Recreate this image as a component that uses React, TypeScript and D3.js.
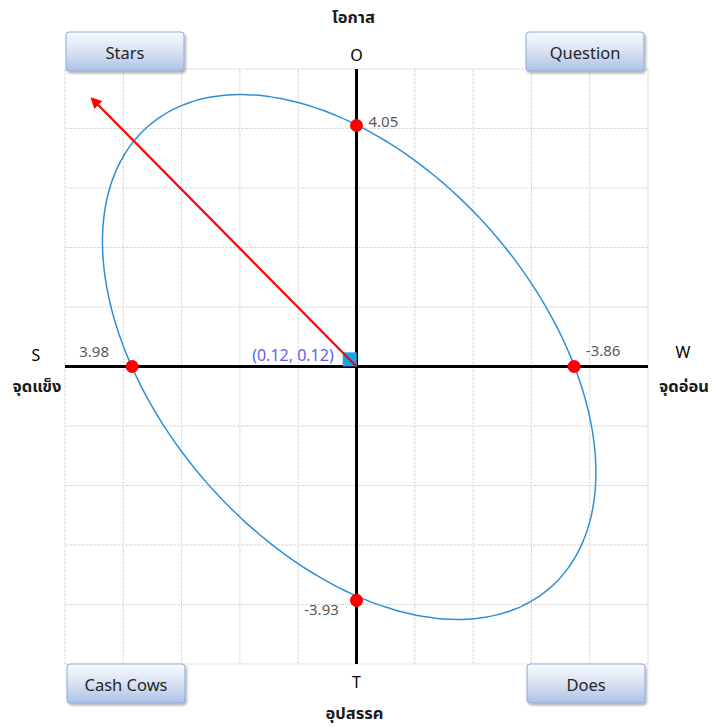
import React from "react";
import * as d3 from "d3";

// ---- data ----
const pointLabels = ["3.98", "-3.86", "4.05", "-3.93"];
const pointX = [3.98, -3.86, 0, 0];
const pointY = [0, 0, 4.05, -3.93];
const centerPoint = [0.12, 0.12];
const centerLabel = "(0.12, 0.12)";
const arrowStart = [0, 0];
const arrowEnd = [4.69, 4.5];
const ellipseCenter = [0.13, 0.16];
const quadrantNames = ["Stars", "Question", "Cash Cows", "Does"];
const axisLetters = ["S", "W", "O", "T"];
const axisThai = ["จุดแข็ง", "จุดอ่อน", "โอกาส", "อุปสรรค"];
const gridCount = 10;

const W = 712;
const H = 727;
const FONT = "'Noto Sans Thai', 'Noto Sans', 'DejaVu Sans', Tahoma, sans-serif";

export default function App() {
  const x = d3.scaleLinear().domain([5.17, -5.17]).range([65, 648]);
  const y = d3.scaleLinear().domain([-5, 5]).range([664, 69]);
  const [x0, x1] = x.range();
  const [y0, y1] = y.range();
  const gridXs = d3.range(gridCount + 1).map((i) => x0 + ((x1 - x0) * i) / gridCount);
  const gridYs = d3.range(gridCount + 1).map((i) => y1 + ((y0 - y1) * i) / gridCount);

  // ellipse (pixel semi-axes & rotation)
  const rx = 306, ry = 190, ang = (49 * Math.PI) / 180;
  const ecx = x(ellipseCenter[0]), ecy = y(ellipseCenter[1]);
  const ellipsePts: [number, number][] = d3.range(0, 360, 2).map((deg) => {
    const t = (deg * Math.PI) / 180;
    const u = rx * Math.cos(t), v = ry * Math.sin(t);
    return [ecx + u * Math.cos(ang) - v * Math.sin(ang), ecy + u * Math.sin(ang) + v * Math.cos(ang)];
  });
  const ellipsePath = d3.line().curve(d3.curveCardinalClosed)(ellipsePts) || "";

  const boxes = [
    { name: quadrantNames[0], x: 66, y: 32 },
    { name: quadrantNames[1], x: 526, y: 32 },
    { name: quadrantNames[2], x: 67, y: 664 },
    { name: quadrantNames[3], x: 527, y: 664 },
  ];
  const bw = 118, bh = 39;

  const labelOffsets = [
    { dx: -38, dy: -15, anchor: "middle" },
    { dx: 29, dy: -16, anchor: "middle" },
    { dx: 12, dy: -4, anchor: "start" },
    { dx: -35, dy: 9, anchor: "middle" },
  ];

  const ax = x(arrowStart[0]), ay = y(arrowStart[1]);
  const bx = x(arrowEnd[0]), by = y(arrowEnd[1]);

  return (
    <svg width={W} height={H} style={{ position: "absolute", left: 0, top: 0, background: "#fff" }} fontFamily={FONT}>
      <defs>
        <linearGradient id="boxg" x1="0" y1="0" x2="0" y2="1">
          <stop offset="0" stopColor="#f7f9fd" />
          <stop offset="0.45" stopColor="#dde5f4" />
          <stop offset="1" stopColor="#adc1e6" />
        </linearGradient>
        <filter id="sh" x="-10%" y="-10%" width="130%" height="140%">
          <feDropShadow dx="1.5" dy="2" stdDeviation="1.2" floodColor="#000" floodOpacity="0.3" />
        </filter>
        <marker id="arr" viewBox="0 0 10 10" refX="8" refY="5" markerWidth="5" markerHeight="5" orient="auto">
          <path d="M0,0 L10,5 L0,10 z" fill="#ff0000" />
        </marker>
      </defs>

      {/* grid */}
      <g stroke="#d9d9d9" strokeWidth={1} strokeDasharray="3,1">
        {gridXs.map((gx, i) => (
          <line key={"gx" + i} x1={gx} x2={gx} y1={y1} y2={y0} />
        ))}
        {gridYs.map((gy, i) => (
          <line key={"gy" + i} x1={x0} x2={x1} y1={gy} y2={gy} />
        ))}
      </g>

      {/* axes */}
      <line x1={x0} x2={x1} y1={y(0)} y2={y(0)} stroke="#000" strokeWidth={3} />
      <line x1={x(0)} x2={x(0)} y1={y1} y2={y0} stroke="#000" strokeWidth={3} />

      {/* ellipse */}
      <path d={ellipsePath} fill="none" stroke="#2e8fd6" strokeWidth={1.5} />

      {/* center square */}
      <rect x={x(centerPoint[0]) - 7} y={y(centerPoint[1]) - 7} width={14} height={14} fill="#1aa3e8" />
      <text x={x(centerPoint[0]) - 16} y={y(centerPoint[1]) - 4} dy="0.35em" textAnchor="end" fontSize={16} fill="#6060f0">
        {centerLabel}
      </text>

      {/* arrow */}
      <line x1={ax} y1={ay} x2={bx} y2={by} stroke="#ff0000" strokeWidth={2.2} markerEnd="url(#arr)" />

      {/* points */}
      {pointX.map((px, i) => (
        <g key={"p" + i}>
          <circle cx={x(px)} cy={y(pointY[i])} r={6.5} fill="#ff0000" />
          <text
            x={x(px) + labelOffsets[i].dx}
            y={y(pointY[i]) + labelOffsets[i].dy}
            dy="0.35em"
            textAnchor={labelOffsets[i].anchor as any}
            fontSize={15}
            fill="#595959"
          >
            {pointLabels[i]}
          </text>
        </g>
      ))}

      {/* quadrant boxes */}
      {boxes.map((b, i) => (
        <g key={"b" + i}>
          <rect x={b.x} y={b.y} width={bw} height={bh} rx={3} fill="url(#boxg)" stroke="#8eaadb" strokeWidth={1} filter="url(#sh)" />
          <text x={b.x + bw / 2} y={b.y + bh / 2 + 2} dy="0.35em" textAnchor="middle" fontSize={16.5} fill="#262626">
            {b.name}
          </text>
        </g>
      ))}

      {/* axis letters */}
      <g fontSize={16} fill="#000">
        <text x={36} y={355} dy="0.35em" textAnchor="middle">{axisLetters[0]}</text>
        <text x={683} y={352} dy="0.35em" textAnchor="middle">{axisLetters[1]}</text>
        <text x={x(0)} y={55} dy="0.35em" textAnchor="middle">{axisLetters[2]}</text>
        <text x={x(0)} y={682} dy="0.35em" textAnchor="middle">{axisLetters[3]}</text>
      </g>
      <g fontSize={16.5} fill="#1a1a1a" fontWeight="bold">
        <text x={37} y={386} dy="0.35em" textAnchor="middle">{axisThai[0]}</text>
        <text x={684} y={386} dy="0.35em" textAnchor="middle">{axisThai[1]}</text>
        <text x={x(0) - 3} y={17} dy="0.35em" textAnchor="middle">{axisThai[2]}</text>
        <text x={x(0) - 2} y={713} dy="0.35em" textAnchor="middle">{axisThai[3]}</text>
      </g>
    </svg>
  );
}
